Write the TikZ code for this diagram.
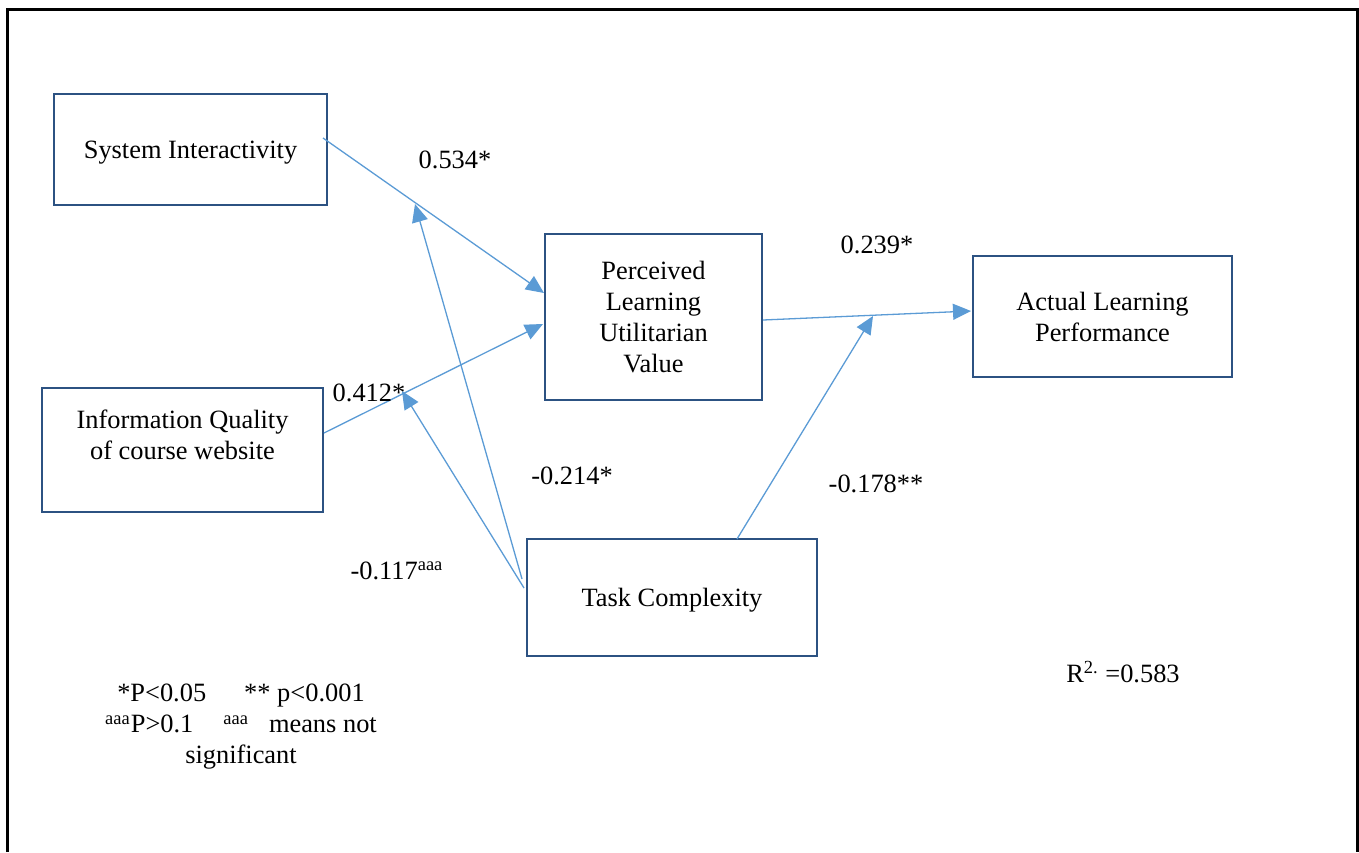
\documentclass[tikz,border=0pt]{standalone}
\usepackage{fontspec}
\setmainfont{Liberation Serif}
\usetikzlibrary{arrows.meta,calc}
\definecolor{boxblue}{RGB}{44,82,130}
\definecolor{linkblue}{RGB}{91,155,213}
\tikzset{
  cbox/.style={draw=boxblue,line width=1pt,rectangle,align=center,inner sep=0pt},
  link/.style={draw=linkblue,line width=0.65pt,-{Triangle[length=9pt,width=8pt]},color=linkblue},
  coef/.style={inner sep=0pt}
}
\begin{document}
\begin{tikzpicture}[x=0.5pt,y=-0.5pt,font=\fontsize{13.2}{15.5}\selectfont]

		\useasboundingbox (0,0) rectangle (1359,852);

		% Marco
		\draw[line width=1.5pt] (7,852) -- (7,9) -- (1357,9) -- (1357,852);

		% Cajas
		\node[cbox,minimum width=136.5pt,minimum height=55.5pt,text depth=0pt] (sys) at (190.5,149.5) {System Interactivity};
		\node[cbox,minimum width=140.5pt,minimum height=62pt] (info) at (182.5,450) {Information Quality\\of course website\\\mbox{}};
		\node[cbox,minimum width=108.5pt,minimum height=83pt] (pluv) at (653.5,317) {Perceived\\Learning\\Utilitarian\\Value};
		\node[cbox,minimum width=129.5pt,minimum height=60.5pt] (alp) at (1102.5,316.5) {Actual Learning\\Performance};
		\node[cbox,minimum width=145pt,minimum height=58.5pt,text depth=0pt] (task) at (672,597.5) {Task Complexity};

		% Puntos sobre las flechas
		\coordinate (m534) at (415,204);
		\coordinate (m412) at (402,391);
		\coordinate (m239) at (873,316);

		% Flechas
		\draw[link] ($(sys.east)+(-5,-11.5)$) -- ($(pluv.west)+(0,-24)$);
		\draw[link] ($(info.east)+(0,-17)$) -- ($(pluv.west)+(-1,7)$);
		\draw[link] ($(pluv.east)+(0,3)$) -- ($(alp.west)+(-1,-5.5)$);
		\draw[link] ($(task.west)+(-4,-18.5)$) -- (m534);
		\draw[link] ($(task.west)+(-2,-9.5)$) -- (m412);
		\draw[link] ($(task.north)+(65,1)$) -- (m239);

		% Coeficientes
		\node[coef] (c534) at (455,160) {0.534*};
		\node[coef] (c239) at (877,245) {0.239*};
		\node[coef] (c412) at (369,393) {0.412*};
		\node[coef] (c214) at (572,476) {-0.214*};
		\node[coef] (c178) at (876,484) {-0.178**};
		\node[coef] (c117) at (397,571) {-0.117\textsuperscript{aaa}};

		% Leyenda
		\node[coef,align=center] (legend) at (241,727) {*P<0.05\hspace{19pt}** p<0.001\\\textsuperscript{aaa}P>0.1\hspace{15pt}\textsuperscript{aaa}\hspace{10pt}means not\\significant};
		\node[coef] (rsq) at (1123,672) {R\textsuperscript{2.} =0.583};

	\end{tikzpicture}
\end{document}
